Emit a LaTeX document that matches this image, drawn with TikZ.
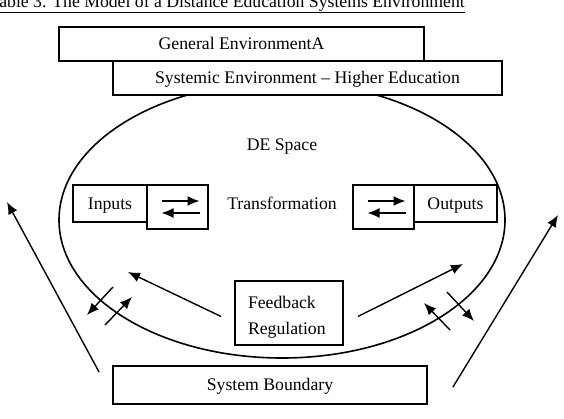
\documentclass[tikz,border=0pt]{standalone}
\usepackage{fontspec}
\setmainfont{Liberation Serif}
\usetikzlibrary{arrows.meta,positioning,calc,shapes.geometric}

\begin{document}
\begin{tikzpicture}[x=1pt, y=-1pt,
        font=\fontsize{17.7}{21}\selectfont,
        box/.style={draw, line width=1.8pt, fill=white, rectangle, inner sep=0pt, text height=1.1em, text depth=0pt},
        swapbox/.style={box, minimum width=61pt, minimum height=44pt},
        fbbox/.style={draw, line width=1.8pt, fill=white, inner sep=0pt, minimum width=108pt, minimum height=64pt,
            text width=82pt, align=left, text height=20pt, font=\fontsize{17.7}{26}\selectfont},
        arrow/.style={-{Latex[length=12pt,width=10pt]}, line width=1.4pt}
    ]
    \clip (0,0) rectangle (564,418);
    % caption, cut off at the top
    \node[anchor=base west, inner sep=0pt] (title) at (-10.5,7.5)
        {Table 3. The Model of a Distance Education Systems Environment};
    \draw[line width=1.1pt] ([yshift=-5.3pt]title.base west) -- ([yshift=-5.3pt]title.base east);

    \node[draw, ellipse, line width=1.6pt, inner sep=0pt, minimum width=446pt, minimum height=276pt] (despace) at (282,220) {};
    \node[box, minimum width=365pt, minimum height=34pt] (general) at (241.5,44) {General EnvironmentA};
    \node[box, minimum width=389pt, minimum height=34pt] (systemic) at (307.5,78) {Systemic Environment – Higher Education};

    \node[anchor=base] (spacelbl) at (282,150) {DE Space};
    \node[anchor=base] (translbl) at (282,209) {Transformation};

    \node[box, minimum width=74pt, minimum height=37pt] (inputs) at (110,203.5) {Inputs};
    \node[swapbox] (inswap) at (177.5,207) {};
    \node[swapbox] (outswap) at (383.5,207) {};
    \node[box, minimum width=83pt, minimum height=37pt] (outputs) at (455.5,203.5) {Outputs};
    \draw[arrow] ([xshift=-16pt,yshift=6pt]inswap.center) -- ([xshift=22pt,yshift=6pt]inswap.center);
    \draw[arrow] ([xshift=22pt,yshift=-6pt]inswap.center) -- ([xshift=-16pt,yshift=-6pt]inswap.center);
    \draw[arrow] ([xshift=-16pt,yshift=6pt]outswap.center) -- ([xshift=22pt,yshift=6pt]outswap.center);
    \draw[arrow] ([xshift=22pt,yshift=-6pt]outswap.center) -- ([xshift=-16pt,yshift=-6pt]outswap.center);

    \node[fbbox] (feedback) at (289,313) {Feedback\\Regulation};
    \node[box, minimum width=314pt, minimum height=38pt] (boundary) at (270,385) {System Boundary};

    % feedback into the space
    \coordinate (fbltip) at (128,272);
    \coordinate (fbrtip) at (463,264);
    \draw[arrow] ([shift={(-13,3.5)}]feedback.west) -- (fbltip);
    \draw[arrow] ([shift={(14,3.5)}]feedback.east) -- (fbrtip);

    % exchange across the space edge
    \coordinate (lout0) at (113,287); \coordinate (lout1) at (87,315);
    \coordinate (lin0) at (105,325);  \coordinate (lin1) at (132,297);
    \coordinate (rout0) at (447,292); \coordinate (rout1) at (474,321);
    \coordinate (rin0) at (450,330);  \coordinate (rin1) at (424,303);
    \draw[arrow] (lout0) -- (lout1);
    \draw[arrow] (lin0) -- (lin1);
    \draw[arrow] (rout0) -- (rout1);
    \draw[arrow] (rin0) -- (rin1);

    % out of the system boundary
    \coordinate (ltip) at (7,202);
    \coordinate (rtip) at (558,215);
    \draw[arrow] ([shift={(-13,7)}]boundary.north west) -- (ltip);
    \draw[arrow] ([shift={(25,22)}]boundary.north east) -- (rtip);
\end{tikzpicture}
\end{document}
